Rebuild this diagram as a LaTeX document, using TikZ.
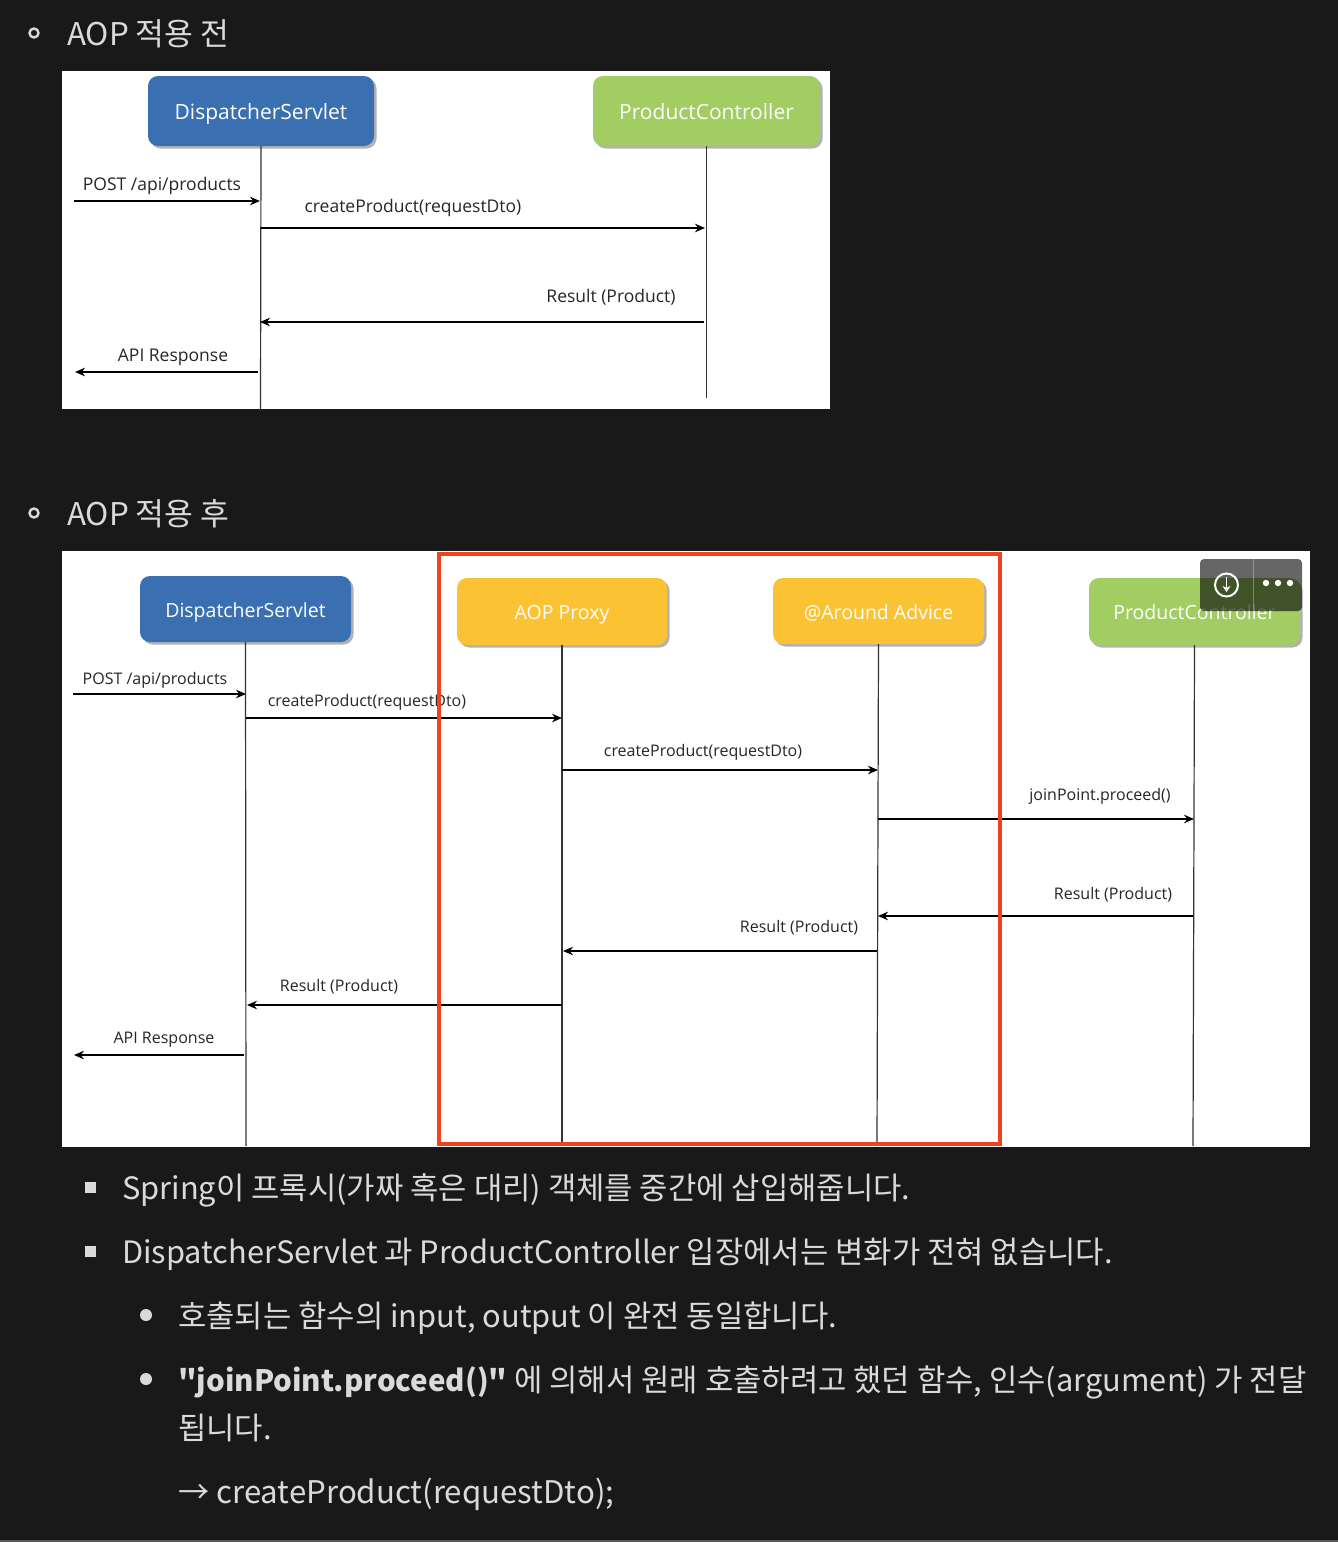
\documentclass[tikz,border=0pt]{standalone}
\usepackage{fontspec}
\setmainfont{Noto Sans CJK KR}
\newfontfamily\figfont{Open Sans}
\newfontfamily\bodyfont{Noto Sans CJK KR}
\usetikzlibrary{shadows,positioning,arrows.meta}
\definecolor{pagebg}{HTML}{191919}
\definecolor{pagetext}{HTML}{DADADA}
\definecolor{servletblue}{HTML}{3A70B2}
\definecolor{ctrlgreen}{HTML}{A2CD62}
\definecolor{aopyellow}{HTML}{FBC234}
\definecolor{redframe}{HTML}{F0421E}
\tikzset{
  lifebox/.style={rounded corners=10pt,inner sep=0pt,text=white,text height=16pt,text depth=0pt,font=\figfont\fontsize{21}{21}\selectfont,
    drop shadow={shadow xshift=2.5pt,shadow yshift=-2.5pt,opacity=.3,fill=black}},
  msg/.style={font=\figfont\fontsize{17.5}{18}\selectfont,text=black!85,inner sep=0pt},
  msgline/.style={->,line width=1.8pt,black},
  lifeline/.style={line width=1.2pt,black!80},
  bodytext/.style={anchor=base west,inner sep=0pt,text=pagetext,font=\bodyfont\fontsize{30.8}{32}\selectfont},
  headtext/.style={anchor=base west,inner sep=0pt,text=pagetext,font=\bodyfont\fontsize{31.3}{32}\selectfont},
}
\begin{document}
\begin{tikzpicture}[>={Stealth[length=10pt,width=8.5pt]},x=1pt,y=-1pt]
    \fill[pagebg] (0,0) rectangle (1338,1542);
    \useasboundingbox (0,0) rectangle (1338,1542);
    \fill[black!65] (0,1540) rectangle (1338,1542);
    % headings
    \draw[pagetext,line width=2.4pt] (34,33) circle (4.5pt);
    \node[headtext] (headbefore) at (67,45) {AOP 적용 전};
    \draw[pagetext,line width=2.4pt] (34,513) circle (4.5pt);
    \node[headtext] (headafter) at (67,525) {AOP 적용 후};
    % first diagram
    \fill[white] (62,71) rectangle (830,409);
    \node[lifebox,fill=servletblue,minimum width=226pt,minimum height=70pt] (servleta) at (261,111) {DispatcherServlet};
    \node[lifebox,fill=ctrlgreen,minimum width=227pt,minimum height=70pt] (ctrla) at (706.5,111) {ProductController};
    \coordinate (servletaend) at (260.5,409);
    \coordinate (ctrlaend) at (706.5,398);
    \draw[lifeline] (servleta.south) -- (servletaend);
    \draw[lifeline] (ctrla.south) -- (ctrlaend);
    \foreach \name/\xa/\ya/\xb/\yb/\xtext/\lx/\ly in {
        a1/74/201/260/201/{POST /api/products}/162/186,
        a2/261/228/705/228/createProduct(requestDto)/413/208,
        a3/704/322/260/322/Result (Product)/611/297,
        a4/258/372/75/372/API Response/173/357}{
      \coordinate (\name from) at (\xa,\ya);
      \coordinate (\name to) at (\xb,\yb);
      \draw[msgline] (\name from) -- (\name to);
      \node[msg] (\name label) at (\lx,\ly) {\xtext};
    }
    % second diagram
    \fill[white] (62,551) rectangle (1310,1147);
    \node[lifebox,fill=servletblue,minimum width=211pt,minimum height=66pt,font=\figfont\fontsize{19.5}{20}\selectfont] (servletb) at (245.5,609) {DispatcherServlet};
    \node[lifebox,fill=aopyellow,minimum width=210pt,minimum height=67pt,font=\figfont\fontsize{19.5}{20}\selectfont] (proxyb) at (562,611.5) {AOP Proxy};
    \node[lifebox,fill=aopyellow,minimum width=211pt,minimum height=66pt,font=\figfont\fontsize{19.5}{20}\selectfont] (adviceb) at (878.5,611) {@Around Advice};
    \node[lifebox,fill=ctrlgreen,minimum width=211pt,minimum height=67pt,font=\figfont\fontsize{19.5}{20}\selectfont] (ctrlb) at (1194.5,611.5) {ProductController};
    \coordinate (servletbend) at (246,1146);
    \coordinate (proxybend) at (562,1146);
    \coordinate (advicebend) at (877,1146);
    \coordinate (ctrlbend) at (1193,1146);
    \draw[lifeline] (servletb.south) -- (servletbend);
    \draw[lifeline] (proxyb.south) -- (proxybend);
    \draw[lifeline] (adviceb.south) -- (advicebend);
    \draw[lifeline] (ctrlb.south) -- (ctrlbend);
    \foreach \name/\xa/\ya/\xb/\yb/\xtext/\lx/\ly in {
        b1/73/694/246/694/{POST /api/products}/155/680,
        b2/246/718/562/718/createProduct(requestDto)/367/702,
        b3/562/770/878/770/createProduct(requestDto)/703/752,
        b4/878/819/1194/819/joinPoint.proceed()/1100/796,
        b5/1193/916/878/916/Result (Product)/1113/895,
        b6/877/951/563/951/Result (Product)/799/928,
        b7/562/1005/247/1005/Result (Product)/339/987,
        b8/244/1055/74/1055/API Response/164/1040}{
      \coordinate (\name from) at (\xa,\ya);
      \coordinate (\name to) at (\xb,\yb);
      \draw[msgline,line width=1.6pt] (\name from) -- (\name to);
      \node[msg,font=\figfont\fontsize{16}{17}\selectfont] (\name label) at (\lx,\ly) {\xtext};
    }
    \draw[redframe,line width=4pt] (438.5,553.5) rectangle (999.5,1143.5);
    % image toolbar
    \fill[black,opacity=.6,rounded corners=4pt] (1200,559) rectangle (1302,611);
    \draw[white,opacity=.3,line width=1pt] (1253,559) -- (1253,611);
    \draw[white,line width=2pt] (1226.5,585) circle (11.5pt);
    \draw[white,line width=1.8pt,-{Stealth[length=6pt,width=8pt,open]}] (1226.5,577) -- (1226.5,592);
    \foreach \x in {1266,1278,1290}
    	\fill[white] (\x,583) circle (3.2pt);
    % text below
    \fill[pagetext] (85,1182) rectangle (96,1193);
    \node[bodytext] (lineone) at (122,1199) {Spring이 프록시(가짜 혹은 대리) 객체를 중간에 삽입해줍니다.};
    \fill[pagetext] (85,1246) rectangle (96,1257);
    \node[bodytext] (linetwo) at (122,1263) {DispatcherServlet 과 ProductController 입장에서는 변화가 전혀 없습니다.};
    \fill[pagetext] (146,1315) circle (6pt);
    \node[bodytext] (linethree) at (178,1327) {호출되는 함수의 input, output 이 완전 동일합니다.};
    \fill[pagetext] (146,1379) circle (6pt);
    \node[bodytext] (linefour) at (178,1391) {{\bfseries\fontsize{29.5}{32}\selectfont "joinPoint.proceed()"} 에 의해서 원래 호출하려고 했던 함수, 인수(argument) 가 전달};
    \node[bodytext] (linefive) at (178,1439) {됩니다.};
    \node[bodytext,font=\bodyfont\fontsize{31.2}{32}\selectfont] (linesix) at (178,1503) {→ createProduct(requestDto);};
\end{tikzpicture}
\end{document}
